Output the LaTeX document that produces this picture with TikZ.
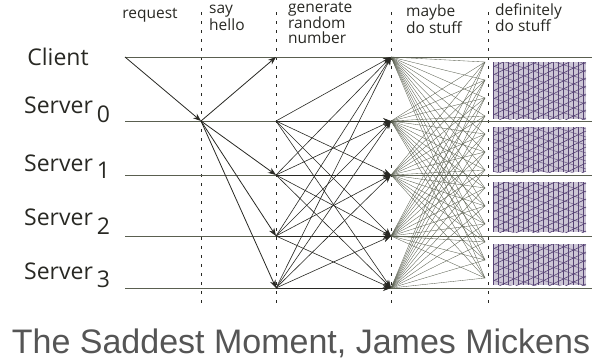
\documentclass[tikz,border=0pt]{standalone}
\usepackage{fontspec}
\setsansfont{Liberation Sans}
\newfontfamily\handfont{Open Sans}
\usetikzlibrary{arrows.meta}
\definecolor{ink}{RGB}{40,40,35}
\definecolor{pencil}{RGB}{90,95,80}
\definecolor{hatch}{RGB}{85,65,115}
\definecolor{captiongray}{RGB}{85,85,85}
\tikzset{
  hand/.style={font=\fontsize{23}{23}\selectfont\handfont, text=ink, inner sep=0pt},
  colhead/.style={font=\fontsize{15.5}{15}\selectfont\handfont, text=ink, align=left, inner sep=0pt},
  timeline/.style={draw=pencil, line width=0.8pt},
  divider/.style={draw=ink, line width=1pt, dash pattern=on 3pt off 6pt},
  msg/.style={draw=ink, line width=0.8pt, -{Stealth[length=8pt,width=6pt]}},
  faint/.style={draw=pencil, line width=0.35pt},
  hatchline/.style={draw=hatch, line width=0.6pt},
}
\begin{document}
\begin{tikzpicture}[x=1pt,y=-1pt]
\useasboundingbox (0,0) rectangle (600,362);
% rows
\def\xa{125}\def\xb{201}\def\xc{276}\def\xd{391}\def\xe{488}\def\xf{592}
\foreach \n/\y in {cl/57,s0/121,s1/175,s2/236,s3/288}{
  \coordinate (\n a) at (\xa,\y);
  \coordinate (\n b) at (\xb,\y);
  \coordinate (\n c) at (\xc,\y);
  \coordinate (\n d) at (\xd,\y);
  \coordinate (\n e) at (\xe,\y);
  \coordinate (\n f) at (\xf,\y);
}
% shaded boxes
\foreach \t/\b in {62/119,127/172,182/232,244/285}{
  \begin{scope}
    \clip (493,\t) rectangle (586,\b);
    \fill[hatch!30] (493,\t) rectangle (586,\b);
    \foreach \k in {0,5,...,96}{
      \draw[hatchline] (493+\k,\t) -- (493+\k,\b);
    }
    \foreach \k in {-60,-52,...,100}{
      \draw[hatchline] (493,\b+\k) -- (586,\b+\k-45);
      \draw[hatchline, opacity=0.7] (493,\t+\k) -- (586,\t+\k+30);
    }
  \end{scope}
}
% dividers
\foreach \x in {\xb,\xc,\xd,\xe}{
  \coordinate (top\x) at (\x,12);
  \coordinate (bot\x) at (\x,306);
  \draw[divider] (top\x) -- (bot\x);
}
% timelines
\foreach \n in {cl,s0,s1,s2,s3}{
  \draw[timeline] (\n a) -- (\n f);
}
% labels
\node[hand] (lcl) at (58,57) {Client};
\node[hand, anchor=base west] (ls0) at (24,113) {Server\raisebox{-9pt}{\,0}};
\node[hand, anchor=base west] (ls1) at (24,171) {Server\raisebox{-7pt}{\,1}};
\node[hand, anchor=base west] (ls2) at (24,225) {Server\raisebox{-9pt}{\,2}};
\node[hand, anchor=base west] (ls3) at (24,279) {Server\raisebox{-8pt}{\,3}};
\node[colhead] (hreq) at (150,15) {request};
\node[colhead, anchor=north west] (hsay) at (209,5) {say\\ hello};
\node[colhead, anchor=north west] (hgen) at (288,2) {generate\\ random\\ number};
\node[colhead, anchor=north west] (hmay) at (406,5) {maybe\\ do stuff};
\node[colhead, anchor=north west] (hdef) at (495,3) {definitely\\ do stuff};
% request
\draw[msg] (cla) -- (s0b);
% say hello
\foreach \n in {cl,s1,s2,s3}{
  \draw[msg] (s0b) -- (\n c);
}
% generate random number
\foreach \m in {s0,s1,s2,s3}{
  \foreach \n in {cl,s0,s1,s2,s3}{
    \draw[msg, line width=0.6pt] (\m c) -- (\n d);
  }
}
% maybe do stuff
\foreach \n in {cl,s0,s1,s2,s3}{
  \foreach \y in {62,80,...,286}{
    \draw[faint] (\n d) -- (485,\y);
  }
}
% caption
\node[font=\fontsize{34}{36}\selectfont\sffamily, text=captiongray, anchor=base, inner sep=0pt] (cap) at (301,353) {The Saddest Moment, James Mickens};
\end{tikzpicture}
\end{document}
